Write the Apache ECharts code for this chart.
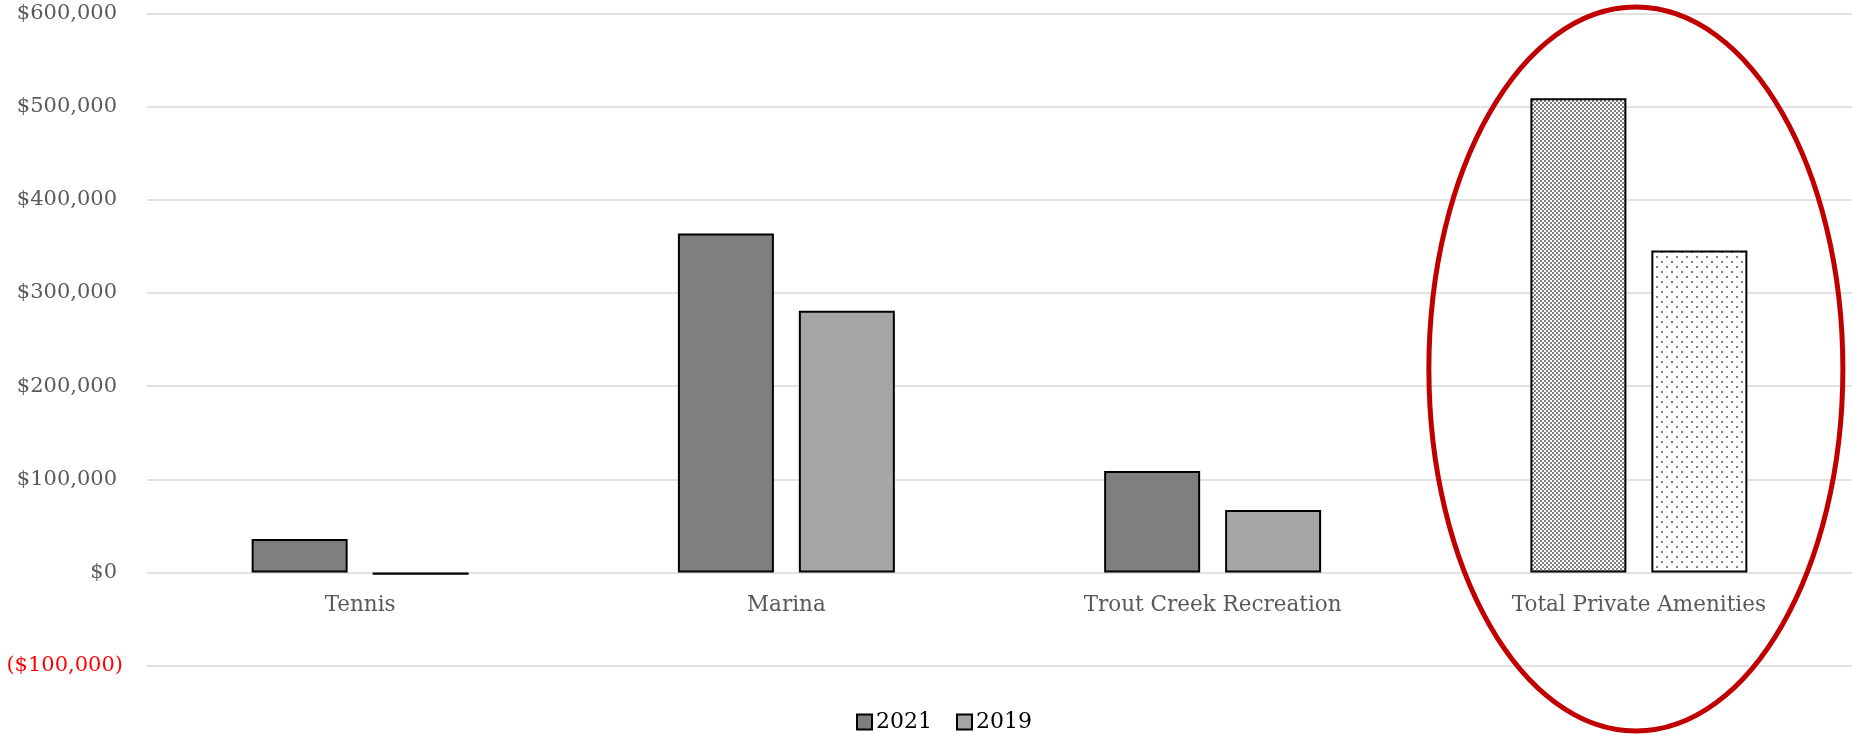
<!DOCTYPE html>
<html>
<head>
<meta charset="utf-8">
<script src="https://cdn.jsdelivr.net/npm/echarts@6/dist/echarts.min.js"></script>
<style>
  html, body { margin: 0; padding: 0; background: #fff; }
  #chart { width: 1852px; height: 735px; }
</style>
</head>
<body>
<div id="chart"></div>
<script>
// data
const categories = ['Tennis', 'Marina', 'Trout Creek Recreation', 'Total Private Amenities']
const values2021 = [36000, 364000, 109000, 509000]
const values2019 = [-2500, 281000, 67000, 345500]
const yTicks = [-100000, 0, 100000, 200000, 300000, 400000, 500000, 600000]

const FONT = 'DejaVu Serif'
const GRID_TOP = 13.5
const GRID_BOTTOM = 69.3

// small canvas patterns for the highlighted total bars
function makePattern(size, draw) {
  let c = document.createElement('canvas')
  c.width = size
  c.height = size
  let ctx = c.getContext('2d')
  ctx.fillStyle = '#fff'
  ctx.fillRect(0, 0, size, size)
  draw(ctx)
  return { image: c, repeat: 'repeat' }
}

const checker = makePattern(4, ctx => {
  ctx.fillStyle = '#7f7f7f'
  ctx.fillRect(0, 0, 2, 2)
  ctx.fillRect(2, 2, 2, 2)
})

const dots = makePattern(10, ctx => {
  ctx.fillStyle = '#7f7f7f'
  ctx.fillRect(1, 1, 2, 2)
  ctx.fillRect(6, 6, 2, 2)
})

// accounting style: negatives in red parentheses, hanging past the column
function fmtMoney(v) {
  let s = '$' + Math.abs(v).toLocaleString('en-US')
  return v < 0 ? '{neg|(' + s + ')}' : '{pos|' + s + '}'
}

let el = document.getElementById('chart')
let chart = echarts.init(el)

// lift the category axis up to the zero line
let yMin = yTicks[0]
let yMax = yTicks[yTicks.length - 1]
let plotH = el.clientHeight - GRID_TOP - GRID_BOTTOM
let zeroOffset = plotH * (0 - yMin) / (yMax - yMin)

let barStyle = { borderColor: '#000', borderWidth: 2 }

chart.setOption({
  animation: false,
  grid: {
    left: 147, right: 0, top: GRID_TOP, bottom: GRID_BOTTOM,
    containLabel: false, outerBoundsMode: 'none'
  },
  legend: {
    left: 851,
    top: 706,
    itemWidth: 15,
    itemHeight: 15,
    itemGap: 24,
    icon: 'rect',
    textStyle: { fontFamily: FONT, fontSize: 22, color: '#000', padding: [0, 0, 0, -1] },
    data: ['2021', '2019']
  },
  xAxis: {
    type: 'category',
    data: categories,
    position: 'bottom',
    offset: -zeroOffset,
    axisLine: { show: false },
    axisTick: { show: false },
    axisLabel: { fontFamily: FONT, fontSize: 21.5, color: '#595959', margin: 22 }
  },
  yAxis: {
    type: 'value',
    min: yMin,
    max: yMax,
    interval: 100000,
    axisLine: { show: false },
    axisTick: { show: false },
    splitLine: { lineStyle: { color: '#d9d9d9', width: 1.5 } },
    axisLabel: {
      margin: 24,
      formatter: fmtMoney,
      rich: {
        pos: { fontFamily: FONT, fontSize: 21, color: '#595959', padding: [0, 6, 0, 0] },
        neg: { fontFamily: FONT, fontSize: 21, color: '#ff0000' }
      }
    }
  },
  series: [
    {
      name: '2021',
      type: 'bar',
      barWidth: 96,
      barGap: '26%',
      itemStyle: Object.assign({ color: '#7f7f7f' }, barStyle),
      data: values2021.map((v, i) => i === 3 ? { value: v, itemStyle: { color: checker } } : v)
    },
    {
      name: '2019',
      type: 'bar',
      barWidth: 96,
      itemStyle: Object.assign({ color: '#a5a5a5' }, barStyle),
      data: values2019.map((v, i) => i === 3 ? { value: v, itemStyle: { color: dots } } : v)
    }
  ]
})

// red highlight ellipse around the totals
let cx = chart.convertToPixel({ xAxisIndex: 0 }, categories[3]) - 3
chart.setOption({
  graphic: [{
    type: 'ellipse',
    shape: { cx: cx, cy: 369, rx: 207, ry: 362 },
    style: { fill: 'none', stroke: '#c00000', lineWidth: 5 },
    z: 100
  }]
})
</script>
</body>
</html>
